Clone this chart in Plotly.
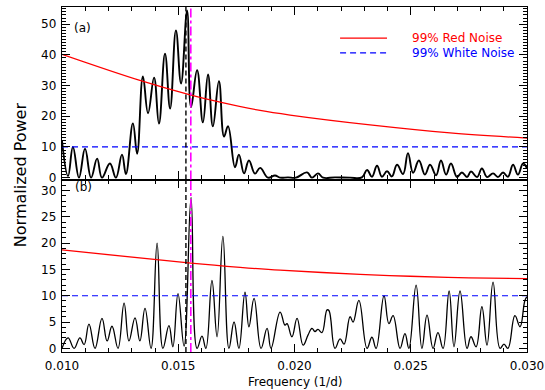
import plotly.graph_objects as go
from plotly.subplots import make_subplots

# ---------------- data ----------------
freq_a = [0.01000, 0.01026, 0.01047, 0.01073, 0.01099, 0.01125, 0.01151, 0.01172, 0.01206, 0.01232,
          0.01258, 0.01275, 0.01305, 0.01323, 0.01348, 0.01370, 0.01396, 0.01417, 0.01443, 0.01465,
          0.01490, 0.01512, 0.01538, 0.01555, 0.01581, 0.01606, 0.01628, 0.01649, 0.01675, 0.01697,
          0.01714, 0.01744, 0.01761, 0.01783, 0.01804, 0.01830, 0.01852, 0.01886, 0.01916, 0.01938,
          0.01972, 0.02006, 0.02054, 0.02075, 0.02101, 0.02123, 0.02174, 0.02239, 0.02290, 0.02312,
          0.02333, 0.02355, 0.02376, 0.02398, 0.02419, 0.02441, 0.02467, 0.02488, 0.02510, 0.02535,
          0.02561, 0.02583, 0.02609, 0.02630, 0.02652, 0.02673, 0.02699, 0.02720, 0.02742, 0.02759,
          0.02785, 0.02806, 0.02828, 0.02854, 0.02875, 0.02897, 0.02918, 0.02940, 0.02961, 0.02983,
          0.03000]
power_a = [12.0, 0.5, 10.0, 0.0, 9.4, 0.0, 6.2, 0.0, 4.6, 0.0,
           7.5, 1.2, 17.7, 7.8, 33.0, 21.0, 32.6, 17.6, 40.4, 22.5,
           48.0, 30.7, 54.5, 23.0, 35.0, 18.0, 33.6, 16.7, 31.4, 13.4,
           16.8, 3.4, 7.5, 1.4, 5.6, 1.3, 3.2, 0.0, 0.7, 0.0,
           0.1, 0.0, 1.7, 0.0, 1.4, 0.0, 0.1, 0.0, 0.1, 2.5,
           0.3, 3.9, 0.3, 2.1, 0.4, 4.2, 1.2, 8.0, 1.6, 5.6,
           1.0, 4.2, 0.8, 5.6, 1.0, 4.6, 0.2, 1.7, 0.2, 2.0,
           0.2, 3.0, 0.2, 1.4, 0.2, 1.7, 0.3, 4.2, 1.0, 4.6,
           3.0]

freq_b = [0.01000, 0.01026, 0.01052, 0.01077, 0.01095, 0.01116, 0.01142, 0.01172, 0.01194, 0.01215,
          0.01241, 0.01267, 0.01288, 0.01314, 0.01335, 0.01357, 0.01383, 0.01409, 0.01434, 0.01460,
          0.01477, 0.01499, 0.01525, 0.01555, 0.01581, 0.01602, 0.01619, 0.01645, 0.01667, 0.01692,
          0.01718, 0.01740, 0.01761, 0.01787, 0.01804, 0.01826, 0.01856, 0.01882, 0.01899, 0.01938,
          0.01959, 0.01968, 0.01989, 0.02011, 0.02037, 0.02058, 0.02075, 0.02088, 0.02101, 0.02118,
          0.02140, 0.02148, 0.02174, 0.02196, 0.02213, 0.02239, 0.02252, 0.02277, 0.02312, 0.02333,
          0.02351, 0.02385, 0.02406, 0.02424, 0.02454, 0.02475, 0.02492, 0.02523, 0.02548, 0.02570,
          0.02596, 0.02617, 0.02639, 0.02665, 0.02686, 0.02712, 0.02742, 0.02759, 0.02781, 0.02806,
          0.02828, 0.02854, 0.02884, 0.02901, 0.02918, 0.02948, 0.02970, 0.02991, 0.03000]
power_b = [0.0, 2.0, 0.0, 2.0, 0.7, 4.6, 0.0, 5.7, 1.4, 4.2,
           0.0, 8.6, 1.4, 5.8, 1.4, 7.6, 0.0, 20.0, 0.0, 4.3,
           0.3, 10.4, 0.4, 28.7, 0.0, 2.3, 0.0, 12.9, 2.2, 21.3,
           0.0, 5.0, 0.0, 10.7, 4.1, 9.5, 0.0, 3.8, 0.0, 6.9,
           4.4, 4.7, 2.2, 5.7, 0.6, 2.5, 3.8, 3.2, 3.6, 3.0,
           7.3, 7.2, 0.0, 1.8, 0.8, 6.0, 5.0, 9.1, 0.0, 2.1,
           0.0, 10.0, 4.7, 6.2, 0.0, 2.8, 0.0, 12.0, 0.0, 6.3,
           0.0, 3.0, 0.0, 10.9, 0.3, 10.9, 0.0, 2.2, 0.3, 7.9,
           0.6, 12.6, 0.0, 0.8, 0.0, 6.2, 4.1, 9.1, 9.8]

red_freq_a = [0.0100, 0.01335, 0.01551, 0.0168, 0.01852, 0.01981, 0.02325, 0.02669, 0.0300]
red_pow_a = [40.2, 31.7, 27.0, 24.6, 21.9, 20.4, 17.2, 14.6, 12.9]
red_freq_b = [0.0100, 0.01555, 0.01766, 0.01938, 0.02282, 0.02497, 0.0275, 0.0300]
red_pow_b = [18.7, 16.2, 15.4, 14.85, 14.07, 13.7, 13.4, 13.25]

white_level = 10.0
freq_black_line = 0.01533
freq_magenta_line = 0.01554

x_ticks = [0.010, 0.015, 0.020, 0.025, 0.030]
x_tick_text = ["0.010", "0.015", "0.020", "0.025", "0.030"]

# ---------------- figure ----------------
FONT = "DejaVu Sans"
fig = make_subplots(rows=2, cols=1, shared_xaxes=True, vertical_spacing=0)

fig.add_trace(go.Scatter(x=freq_a, y=power_a, mode="lines",
                         line=dict(color="black", width=1.9, shape="spline", smoothing=1.2)), row=1, col=1)
fig.add_trace(go.Scatter(x=freq_b, y=power_b, mode="lines",
                         line=dict(color="black", width=1.3, shape="spline", smoothing=1.2)), row=2, col=1)
fig.add_trace(go.Scatter(x=red_freq_a, y=red_pow_a, mode="lines",
                         line=dict(color="red", width=1.3, shape="spline")), row=1, col=1)
fig.add_trace(go.Scatter(x=red_freq_b, y=red_pow_b, mode="lines",
                         line=dict(color="red", width=1.3, shape="spline")), row=2, col=1)
for r in (1, 2):
    fig.add_trace(go.Scatter(x=[0.010, 0.030], y=[white_level, white_level], mode="lines",
                             line=dict(color="blue", width=1.2, dash="6px,4px")), row=r, col=1)

# vertical lines
for yr in ("y", "y2"):
    fig.add_shape(type="line", xref="x", yref=yr + " domain", x0=freq_black_line, x1=freq_black_line, y0=0, y1=1,
                  line=dict(color="black", width=1.4, dash="5px,3px"))
    fig.add_shape(type="line", xref="x", yref=yr + " domain", x0=freq_magenta_line, x1=freq_magenta_line, y0=0, y1=1,
                  line=dict(color="magenta", width=1.6, dash="dashdot"))

axis_common = dict(showline=True, linecolor="black", linewidth=1.4, mirror="ticks", ticks="inside",
                   tickcolor="black", tickwidth=1, showgrid=False, zeroline=False, automargin=False,
                   tickfont=dict(family=FONT, size=12, color="black"))

fig.update_xaxes(**axis_common, range=[0.010, 0.030], tickvals=x_ticks, ticktext=x_tick_text, ticklen=8,
                 ticklabelstandoff=2, ticklabeloverflow="allow",
                 minor=dict(ticks="inside", dtick=0.001, ticklen=4, tickcolor="black"))
fig.update_xaxes(showticklabels=False, row=1, col=1)
fig.update_yaxes(**axis_common, ticklen=8, ticklabelstandoff=2)
fig.update_yaxes(range=[-0.6, 55.6], tickvals=[0, 10, 20, 30, 40, 50],
                 minor=dict(ticks="inside", dtick=1, ticklen=4, tickcolor="black"), row=1, col=1)
fig.update_yaxes(range=[-0.7, 32.1], tickvals=[0, 5, 10, 15, 20, 25, 30],
                 minor=dict(ticks="inside", dtick=1, ticklen=4, tickcolor="black"), row=2, col=1)

# legend (drawn)
fig.add_shape(type="line", xref="paper", yref="paper", x0=0.598, x1=0.699, y0=0.910, y1=0.910,
              line=dict(color="red", width=1.3))
fig.add_shape(type="line", xref="paper", yref="paper", x0=0.598, x1=0.699, y0=0.867, y1=0.867,
              line=dict(color="blue", width=1.2, dash="6px,4px"))
fig.add_annotation(xref="paper", yref="paper", x=0.748, y=0.910, text="99% Red Noise", showarrow=False,
                   xanchor="left", yanchor="middle", font=dict(family=FONT, size=12, color="red"))
fig.add_annotation(xref="paper", yref="paper", x=0.748, y=0.867, text="99% White Noise", showarrow=False,
                   xanchor="left", yanchor="middle", font=dict(family=FONT, size=12, color="blue"))

# panel labels
fig.add_annotation(xref="paper", yref="paper", x=0.022, y=0.939, text="(a)", showarrow=False,
                   xanchor="left", yanchor="middle", font=dict(family=FONT, size=12, color="black"))
fig.add_annotation(xref="paper", yref="paper", x=0.024, y=0.478, text="(b)", showarrow=False,
                   xanchor="left", yanchor="middle", font=dict(family=FONT, size=12, color="black"))

# axis titles
fig.add_annotation(xref="paper", yref="paper", x=-0.090, y=0.513, text="Normalized Power", showarrow=False,
                   textangle=-90, xanchor="center", yanchor="middle", font=dict(family=FONT, size=16, color="black"))
fig.add_annotation(xref="paper", yref="paper", x=0.5, y=-0.087, text="Frequency (1/d)", showarrow=False,
                   xanchor="center", yanchor="middle", font=dict(family=FONT, size=12, color="black"))

fig.update_layout(width=545, height=390, margin=dict(l=62, r=18, t=7, b=38, autoexpand=False),
                  plot_bgcolor="white", paper_bgcolor="white", showlegend=False,
                  font=dict(family=FONT, size=12, color="black"))

# remove the browser's default 8px body margin so the 545x390 figure fills the window exactly
fig.write_html("out.html", config={"displayModeBar": False},
               post_script="document.body.style.margin='0';")
